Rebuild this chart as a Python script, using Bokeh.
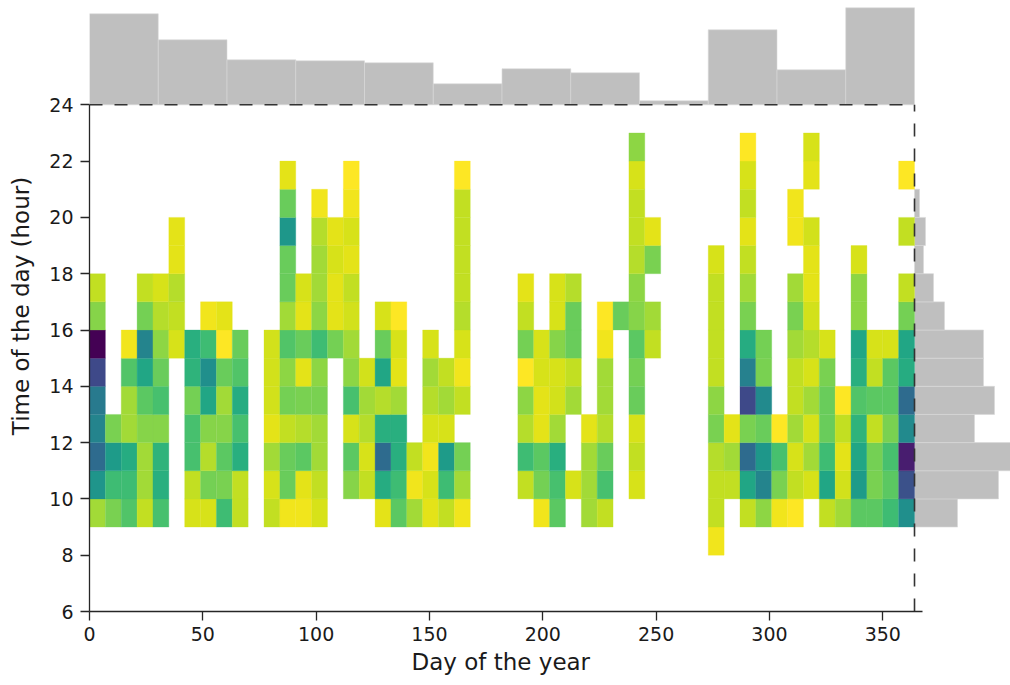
from bokeh.plotting import figure
from bokeh.models import Range1d, FixedTicker, ColumnDataSource, Title
from bokeh.transform import linear_cmap
from bokeh.palettes import Viridis256
from bokeh.embed import file_html
from bokeh.resources import INLINE

N = None
# ---------------- data ----------------
hours = list(range(8, 23))          # lower edge of each 1-hour bin
week_days = 7                        # width of a day-of-year bin
# one list per week (52 weeks), values for hours 8..22 (None = no data)
values_by_week = [
    [N, 1.4, 4.8, 6.5, 5.5, 5.9, 7.8, 10.0, 1.8, 0.9, N, N, N, N, N],
    [N, 2.0, 3.1, 4.5, 2.0, N, N, N, N, N, N, N, N, N, N],
    [N, 2.7, 3.1, 3.8, 1.4, 1.4, 2.7, 0.2, N, N, N, N, N, N, N],
    [N, 0.9, 1.4, 1.4, 1.8, 2.5, 4.1, 5.5, 2.1, 0.9, N, N, N, N, N],
    [N, 2.9, 3.7, 3.5, 1.8, 2.9, 2.3, 1.7, 1.1, 0.6, N, N, N, N, N],
    [N, N, N, N, N, N, N, 0.6, 0.9, 1.1, 0.4, 0.4, N, N, N],
    [N, 0.6, 0.9, 2.9, 2.9, 2.1, 3.5, 3.7, N, N, N, N, N, N, N],
    [N, 0.6, 2.1, 1.1, 1.8, 4.1, 5.0, 3.1, 0.2, N, N, N, N, N, N],
    [N, 3.1, 2.0, 2.5, 1.8, 1.4, 2.3, 0.0, 0.4, N, N, N, N, N, N],
    [N, 0.9, 0.9, 3.7, 2.9, 3.8, 2.7, 2.3, N, N, N, N, N, N, N],
    [N, N, N, N, N, N, N, N, N, N, N, N, N, N, N],
    [N, 0.9, 0.6, 1.4, 0.4, 0.7, 0.7, 0.7, N, N, N, N, N, N, N],
    [N, 0.2, 2.3, 2.3, 0.9, 2.1, 1.7, 2.7, 1.4, 2.3, 2.3, 4.7, 2.3, 0.4, N],
    [N, 0.2, 0.4, 2.5, 1.1, 2.0, 0.4, 2.3, 0.4, 0.6, N, N, N, N, N],
    [N, 0.6, 0.9, 1.4, 1.4, 2.0, 1.7, 3.1, 1.7, 1.4, 1.4, 1.1, 0.2, N, N],
    [N, N, N, N, N, N, N, 2.1, 0.4, 0.4, 0.6, 0.4, N, N, N],
    [N, N, 1.8, 2.5, 0.6, 2.9, 1.7, 1.4, 0.7, 0.9, 0.4, 0.6, 0.2, 0.0, N],
    [N, N, 0.9, 0.6, 1.1, 1.4, 0.7, N, N, N, N, N, N, N, N],
    [N, 0.4, 3.8, 6.5, 3.7, 1.1, 4.1, 2.3, 0.6, N, N, N, N, N, N],
    [N, 2.5, 3.1, 3.7, 3.7, 1.4, 0.4, 0.6, 0.0, N, N, N, N, N, N],
    [N, 1.4, 0.2, 0.9, N, N, N, N, N, N, N, N, N, N, N],
    [N, 0.4, 0.6, 0.2, 0.6, 1.1, 1.4, 0.6, N, N, N, N, N, N, N],
    [N, 0.9, 3.1, 4.5, 0.6, 1.4, 0.9, N, N, N, N, N, N, N, N],
    [N, 0.2, 1.4, 2.1, N, 0.9, 0.2, 0.6, 1.1, 0.9, 0.9, 0.9, 0.9, 0.0, N],
    [N, N, N, N, N, N, N, N, N, N, N, N, N, N, N],
    [N, N, N, N, N, N, N, N, N, N, N, N, N, N, N],
    [N, N, N, N, N, N, N, N, N, N, N, N, N, N, N],
    [N, N, 0.9, 3.1, 1.1, 1.7, 0.0, 2.1, 0.9, 0.4, N, N, N, N, N],
    [N, 0.2, 2.1, 2.5, 0.4, 0.4, 0.6, 0.6, N, N, N, N, N, N, N],
    [N, 2.5, 2.9, 3.7, 1.4, 0.7, 0.6, 1.8, 0.6, 0.6, N, N, N, N, N],
    [N, N, 0.6, N, N, 1.4, 0.9, 2.3, 2.3, 1.1, N, N, N, N, N],
    [N, 1.4, 1.4, 1.4, 0.4, N, N, N, N, N, N, N, N, N, N],
    [N, 0.9, 2.9, 2.3, 1.1, 1.4, 1.4, 0.2, 0.0, N, N, N, N, N, N],
    [N, N, N, N, N, N, N, N, 2.3, N, N, N, N, N, N],
    [N, N, 0.6, 0.9, 0.6, 2.3, 2.1, 2.5, 1.8, 1.7, 1.1, 0.9, 0.9, 0.6, 1.7],
    [N, N, N, N, N, N, N, 0.9, 1.4, N, 2.0, 0.4, N, N, N],
    [N, N, N, N, N, N, N, N, N, N, N, N, N, N, N],
    [N, N, N, N, N, N, N, N, N, N, N, N, N, N, N],
    [N, N, N, N, N, N, N, N, N, N, N, N, N, N, N],
    [0.2, 0.9, 0.9, 1.1, 2.0, 1.7, 0.9, 0.9, 0.9, 0.9, 0.6, N, N, N, N],
    [N, N, 0.9, 1.4, 0.4, N, N, N, N, N, N, N, N, N, N],
    [N, 0.9, 4.1, 6.5, 2.0, 7.8, 5.6, 3.8, 2.0, 1.4, 0.9, 0.4, 0.9, 0.6, 0.0],
    [N, 1.7, 5.5, 4.7, 2.3, 5.2, 2.0, 2.1, N, N, N, N, N, N, N],
    [N, 0.2, 2.0, 2.9, 0.0, N, N, N, N, N, N, N, N, N, N],
    [N, 0.0, 0.9, 0.6, 1.4, 0.9, 0.9, 1.4, 2.0, 1.4, N, 0.2, 0.2, N, N],
    [N, N, 0.6, 1.4, 0.6, 1.4, 0.6, 1.1, 0.7, 0.4, 0.4, 0.7, N, 0.4, 0.6],
    [N, 0.9, 4.1, 3.1, 2.3, 2.3, 2.0, 0.6, N, N, N, N, N, N, N],
    [N, 1.4, 0.7, 0.4, 0.9, 0.0, N, N, N, N, N, N, N, N, N],
    [N, 2.5, 4.5, 4.1, 3.5, 2.7, 3.7, 4.1, 1.7, 1.7, 0.6, N, N, N, N],
    [N, 2.5, 2.0, 2.1, 0.9, 2.5, 0.9, 0.6, N, N, N, N, N, N, N],
    [N, 3.1, 2.5, 2.9, 2.0, 2.5, 2.5, 0.6, N, N, N, N, N, N, N],
    [N, 5.0, 7.5, 9.2, 5.2, 6.5, 3.8, 4.1, 2.1, 0.9, N, 0.9, N, 0.0, N],
]
value_low, value_high = 0.0, 10.0

# marginal histogram of days (12 bins over the year)
month_counts = [91, 65, 45, 44, 42, 21, 36, 32, 4, 75, 35, 97]
# marginal histogram of hours (bins 9..21)
hist_hours = list(range(9, 21))
hour_counts = [43, 84, 105, 60, 80, 69, 69, 30, 19, 9, 11, 5]

year_end = 364
x_ticks = [0, 50, 100, 150, 200, 250, 300, 350]
y_ticks = [6, 8, 10, 12, 14, 16, 18, 20, 22, 24]
y_min, y_max = 6, 24
x_axis_end = 367.5

# ---------------- layout ----------------
W, H = 1010, 685
LEFT, BOTTOM = 89, 74
FRAME_W, FRAME_H = W - LEFT, H - BOTTOM
PX_PER_DAY = 2.2665
PX_PER_HOUR = 28.15
x_end = FRAME_W / PX_PER_DAY
y_end = y_min + FRAME_H / PX_PER_HOUR

FONT = "DejaVu Sans"
TXT = "#1a1a1a"

p = figure(width=W, height=H, output_backend="svg", toolbar_location=None,
           x_range=Range1d(0, x_end), y_range=Range1d(y_min, y_end),
           min_border_left=LEFT, min_border_right=0, min_border_top=0,
           min_border_bottom=BOTTOM, title=None)
p.outline_line_color = None
p.grid.visible = False
p.background_fill_color = "white"

# extra ranges for marginal histograms (1 count = 1 px)
top_px = (y_end - y_max) * PX_PER_HOUR
below_px = (y_max - y_min) * PX_PER_HOUR
p.extra_y_ranges = {"top": Range1d(-below_px, top_px)}
left_px = year_end * PX_PER_DAY
p.extra_x_ranges = {"right": Range1d(-left_px, FRAME_W - left_px)}

# top histogram
nb = len(month_counts)
edges = [year_end * i / nb for i in range(nb + 1)]
p.quad(left=edges[:-1], right=edges[1:], bottom=0, top=month_counts,
       y_range_name="top", fill_color="#bfbfbf", line_color="#d9d9d9",
       line_width=0.6)

# right histogram
p.quad(left=0, right=hour_counts, bottom=hist_hours,
       top=[h + 1 for h in hist_hours], x_range_name="right",
       fill_color="#bfbfbf", line_color="#d9d9d9", line_width=0.6)

# heatmap
xs0, xs1, ys0, ys1, vals = [], [], [], [], []
for w, col in enumerate(values_by_week):
    for h, v in zip(hours, col):
        if v is None:
            continue
        xs0.append(w * week_days)
        xs1.append(w * week_days + week_days)
        ys0.append(h)
        ys1.append(h + 1)
        vals.append(v)
src = ColumnDataSource(dict(left=xs0, right=xs1, bottom=ys0, top=ys1, v=vals))
cmap = linear_cmap("v", palette=list(reversed(Viridis256)), low=value_low, high=value_high)
p.quad(left="left", right="right", bottom="bottom", top="top", source=src,
       fill_color=cmap, line_color=cmap, line_width=0.3)

# dashed separators
p.line([0, year_end], [y_max, y_max], line_color="#333333", line_width=1.6,
       line_dash="13 12")
p.line([year_end, year_end], [y_min, y_max], line_color="#333333", line_width=1.6,
       line_dash="13 12")

# axes
for ax in (p.xaxis[0], p.yaxis[0]):
    ax.axis_line_color = "#262626"
    ax.axis_line_width = 1.3
    ax.major_tick_line_color = "#262626"
    ax.major_tick_line_width = 1.3
    ax.major_tick_out = 9
    ax.major_tick_in = 0
    ax.minor_tick_line_color = None
    ax.major_label_text_font = FONT
    ax.major_label_text_font_size = "19px"
    ax.major_label_text_color = TXT
    ax.axis_label_text_font = FONT
    ax.axis_label_text_font_size = "23px"
    ax.axis_label_text_font_style = "normal"
    ax.axis_label_text_color = TXT

p.xaxis[0].ticker = FixedTicker(ticks=x_ticks)
p.xaxis[0].bounds = (0, x_axis_end)
p.xaxis[0].major_label_standoff = 6
p.yaxis[0].ticker = FixedTicker(ticks=y_ticks)
p.yaxis[0].bounds = (y_min, y_max)
p.yaxis[0].major_label_standoff = 7
p.yaxis[0].axis_label = "Time of the day (hour)"
p.yaxis[0].axis_label_standoff = 12

# x-axis title, centred under the axis span (not the whole frame)
p.add_layout(Title(text="Day of the year", align="left", offset=322,
                   vertical_align="bottom", standoff=6,
                   text_font=FONT, text_font_size="23px",
                   text_font_style="normal", text_color=TXT), "below")

open("out.html", "w").write(file_html(p, INLINE))
